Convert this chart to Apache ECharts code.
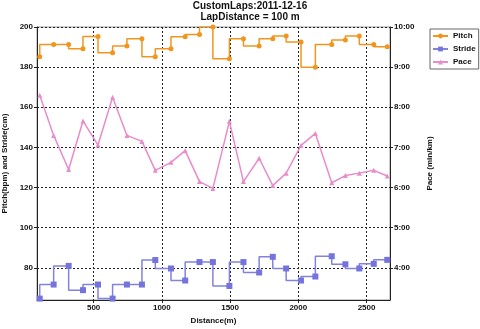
<!DOCTYPE html>
<html><head><meta charset="utf-8">
<script src="https://cdn.jsdelivr.net/npm/echarts@6/dist/echarts.min.js"></script>
<style>html,body{margin:0;padding:0;background:#fff}#c{width:480px;height:329px}</style>
</head><body><div id="c"></div>
<script>
var distance = [105, 207, 317, 422, 532, 639, 744, 854, 952, 1067, 1171, 1276, 1374, 1495, 1598, 1713, 1813, 1911, 2020, 2125, 2245, 2345, 2447, 2553, 2652];
var pitch = [185.2, 191.3, 191.3, 189.2, 195.3, 187.2, 190.5, 194.2, 185.2, 189.2, 195.2, 196.3, 200, 184.2, 194.2, 190.5, 194.2, 195.5, 192.5, 180, 191.3, 193.5, 195.5, 191.3, 190.2];
var stride = [64.7, 71.7, 81, 68.9, 71.7, 64.7, 71.7, 71.7, 83.9, 79.7, 73.7, 82.9, 82.9, 71, 82.9, 77.7, 85.5, 79.7, 73.7, 75.7, 85.8, 81.8, 79.7, 82, 84];
var paceMin = [8.30, 7.30, 6.45, 7.66, 7.06, 8.25, 7.30, 7.15, 6.43, 6.63, 6.92, 6.15, 5.98, 7.65, 6.15, 6.73, 6.05, 6.36, 7.05, 7.35, 6.12, 6.30, 6.36, 6.43, 6.29];
var xTicks = [500, 1000, 1500, 2000, 2500];
var leftTicks = [80, 100, 120, 140, 160, 180, 200];
var rightTicks = [4, 5, 6, 7, 8, 9, 10];
var titleText = 'CustomLaps:2011-12-16\nLapDistance = 100 m';

function pairs(ys){ return distance.map(function(d,i){ return [d, ys[i]]; }); }
var FONT = 'Liberation Sans, Arial, sans-serif';
var dash = {color:'#222', type:[2,2], width:1};
var chart = echarts.init(document.getElementById('c'), null, {renderer:'canvas'});
chart.setOption({
  animation:false,
  textStyle:{fontFamily:FONT},
  title:{text:titleText, left:250, top:1, padding:0, textAlign:'center',
    textStyle:{fontSize:10, fontWeight:'bold', color:'#111', lineHeight:11, fontFamily:FONT}},
  legend:{
    orient:'vertical', left:430, top:29,
    itemWidth:15, itemHeight:6, itemGap:5,
    padding:[3,3,3,2],
    borderColor:'#666', borderWidth:1,
    textStyle:{fontSize:8, fontWeight:'bold', color:'#111', fontFamily:FONT},
    data:['Pitch','Stride','Pace']
  },
  grid:{left:37, right:90, top:27, bottom:29, show:true, borderColor:'#999', borderWidth:1,
    containLabel:false, outerBoundsMode:'none'},
  xAxis:{type:'value', min:85, max:2672,
    name:'Distance(m)', nameLocation:'middle', nameGap:15,
    nameTextStyle:{fontSize:8, fontWeight:'bold', color:'#111'},
    axisLine:{lineStyle:{color:'#222', width:1}},
    axisTick:{show:true, customValues:xTicks, length:3, lineStyle:{color:'#222'}},
    axisLabel:{customValues:xTicks, fontSize:8, fontWeight:'bold', color:'#111', margin:4,
      formatter:function(v){ return String(v); }},
    splitLine:{show:true, lineStyle:dash}
  },
  yAxis:[{type:'value', min:64, max:200, position:'left',
    name:'Pitch(bpm) and Stride(cm)', nameLocation:'middle', nameRotate:90, nameGap:24,
    nameTextStyle:{fontSize:8, fontWeight:'bold', color:'#111'},
    axisLine:{show:true, lineStyle:{color:'#222', width:1}},
    axisTick:{show:true, customValues:leftTicks, length:3, lineStyle:{color:'#222'}},
    axisLabel:{customValues:leftTicks, fontSize:8, fontWeight:'bold', color:'#111', margin:4,
      formatter:function(v){ return String(v); }},
    splitLine:{show:true, lineStyle:dash}
  },{type:'value', min:3.2, max:10, position:'right',
    name:'Pace (min/km)', nameLocation:'middle', nameRotate:90, nameGap:35,
    nameTextStyle:{fontSize:8, fontWeight:'bold', color:'#111'},
    axisLine:{show:true, lineStyle:{color:'#222', width:1}},
    axisTick:{show:true, customValues:rightTicks, length:3, lineStyle:{color:'#222'}},
    axisLabel:{customValues:rightTicks, fontSize:8, fontWeight:'bold', color:'#111', margin:4,
      formatter:function(v){ return Math.round(v) + ':00'; }},
    splitLine:{show:false}
  }],
  series:[
    {name:'Pitch', type:'line', step:'start', yAxisIndex:0, data:pairs(pitch),
      symbol:'circle', symbolSize:5, showAllSymbol:true,
      lineStyle:{color:'#F0961E', width:1.5}, itemStyle:{color:'#F0961E'}},
    {name:'Stride', type:'line', step:'start', yAxisIndex:0, data:pairs(stride),
      symbol:'rect', symbolSize:6, showAllSymbol:true,
      lineStyle:{color:'#8282E0', width:1.5}, itemStyle:{color:'#7474DC'}},
    {name:'Pace', type:'line', yAxisIndex:1, data:pairs(paceMin),
      symbol:'triangle', symbolSize:5, showAllSymbol:true,
      lineStyle:{color:'#E88CCB', width:1.5}, itemStyle:{color:'#E88CCB'}}
  ]
});
</script></body></html>
